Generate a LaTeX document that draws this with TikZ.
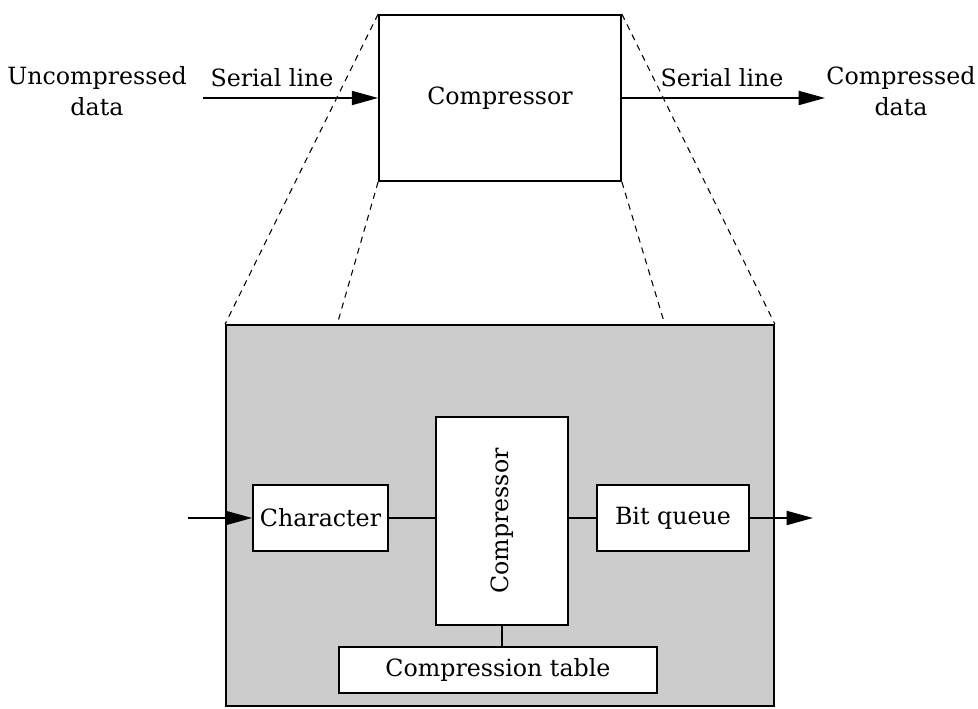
\documentclass[tikz,border=0pt]{standalone}
\usepackage{fontspec}
\setmainfont{DejaVu Serif}
\usetikzlibrary{arrows.meta}
\tikzset{
  blk/.style={draw, line width=1pt, fill=white, inner sep=0pt},
  lbl/.style={font=\fontsize{13.5}{17.5}\selectfont, align=center},
  zoomline/.style={dashed, line width=.6pt, dash pattern=on 3.5pt off 3pt},
}
\begin{document}
\begin{tikzpicture}[>={Triangle[length=15pt,width=8pt]}, line width=1pt, lbl]
\useasboundingbox (0,0) rectangle (19.56,14.18);
% top level
\node[blk, minimum width=4.84cm, minimum height=3.32cm] (top) at (10,12.22) {Compressor};
\node (src) at (1.94,12.36) {Uncompressed\\data};
\node (dst) at (18.02,12.36) {Compressed\\data};
\coordinate (inl) at (4.06,12.22);
\coordinate (outr) at (16.5,12.22);
\draw[->] (inl) -- (top.west);
\draw[->] (top.east) -- (outr);
\node (serin) at (5.44,12.62) {Serial line};
\node (serout) at (14.44,12.62) {Serial line};
% zoomed view
\node[draw, line width=1pt, fill=black!20, minimum width=10.96cm, minimum height=7.62cm] (big) at (10,3.87) {};
\coordinate (gl) at (6.74,7.68);
\coordinate (gr) at (13.3,7.68);
\draw[zoomline] (top.north west) -- (big.north west);
\draw[zoomline] (top.north east) -- (big.north east);
\draw[zoomline] (top.south west) -- (gl);
\draw[zoomline] (top.south east) -- (gr);
\node[blk, minimum width=2.7cm, minimum height=1.32cm] (chr) at (6.41,3.82) {Character};
\node[blk, minimum width=2.64cm, minimum height=4.16cm] (cmp) at (10.04,3.76) {};
\node[rotate=90] (cmplbl) at (cmp.center) {Compressor};
\node[blk, minimum width=3.04cm, minimum height=1.32cm] (bq) at (13.46,3.82) {Bit queue};
\node[blk, minimum width=6.36cm, minimum height=.92cm] (tab) at (9.96,.78) {Compression table};
\coordinate (a) at (3.76,3.82);
\coordinate (b) at (16.26,3.82);
\draw[->] (a) -- (chr);
\draw (chr) -- (chr -| cmp.west);
\draw (bq) -- (bq -| cmp.east);
\draw[->] (bq) -- (b);
\draw (cmp.south) -- (cmp.south |- tab.north);
\end{tikzpicture}
\end{document}
